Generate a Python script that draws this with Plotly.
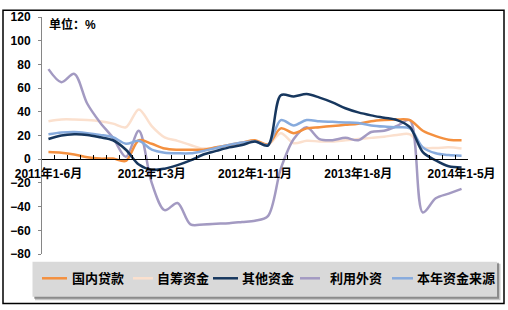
import plotly.graph_objects as go

# ---------------- data ----------------
months = [
    "2011年1-6月", "2011年1-7月", "2011年1-8月", "2011年1-9月", "2011年1-10月", "2011年1-11月", "2011年1-12月",
    "2012年1-2月", "2012年1-3月", "2012年1-4月", "2012年1-5月", "2012年1-6月", "2012年1-7月", "2012年1-8月",
    "2012年1-9月", "2012年1-10月", "2012年1-11月", "2012年1-12月",
    "2013年1-2月", "2013年1-3月", "2013年1-4月", "2013年1-5月", "2013年1-6月", "2013年1-7月", "2013年1-8月",
    "2013年1-9月", "2013年1-10月", "2013年1-11月", "2013年1-12月",
    "2014年1-2月", "2014年1-3月", "2014年1-4月", "2014年1-5月",
]
tick_labels = ["2011年1-6月", "2012年1-3月", "2012年1-11月", "2013年1-8月", "2014年1-5月"]

domestic_loans = [6, 5.5, 4, 1.6, 0.5, 0.5, -1.5, 16, 13, 9, 8, 8, 8, 10, 12, 14, 16, 12.5,
                  26, 22, 26, 27, 28, 29, 30, 32, 33, 33.5, 33, 24, 19.5, 16.5, 16]
self_raised = [32, 33.5, 33.5, 33, 32, 30, 27, 42, 28, 18.5, 15.5, 12, 9, 10, 12, 14, 15.5, 12,
               22, 13.5, 15.5, 15, 15, 16, 17, 18, 19, 20.5, 21, 10, 9.5, 10, 9]
other_funds = [17, 20, 21, 20.5, 18.5, 16, 8, -4.5, -9, -8, -5, -1, 4, 7, 10, 12, 15, 11.5,
               54, 53, 55, 52, 48, 43, 39.5, 37, 35, 33, 27, 6, -1, -6, -7]
foreign_capital = [76, 65, 72, 47, 31, 18, 2, 24, -20, -43, -37, -55, -55, -54.5, -54, -53, -52, -48,
                   -8, 17, 27, 17, 16, 18, 16, 23, 24, 28, 33, -45, -33, -29, -25]
total_sources = [21, 22.5, 23, 22, 20.5, 18.5, 13, 15.5, 8, 5.5, 5, 5, 7, 9.5, 12, 14, 15, 12,
                 33, 28.5, 33, 32, 31.5, 31, 30.5, 28.5, 27.5, 27, 26, 10, 5, 3.5, 3]

series_names = ["国内贷款", "自筹资金", "其他资金", "利用外资", "本年资金来源"]
series_values = [domestic_loans, self_raised, other_funds, foreign_capital, total_sources]
series_colors = ["#F4903F", "#FBE0CE", "#17375E", "#A39AC2", "#87ABDD"]
draw_order = [1, 3, 0, 4, 2]

# ---------------- layout geometry (pixels) ----------------
W, H = 508, 310
L, R, T, B = 42, 40, 10, 56
PW, PH = W - L - R, H - T - B


def px_x(px):
    return (px - L) / PW


def px_y(py):
    return (H - B - py) / PH


FONT = "Arial, 'Liberation Sans', 'Noto Sans CJK SC', sans-serif"

fig = go.Figure()
for k in draw_order:
    fig.add_trace(go.Scatter(
        x=months, y=series_values[k], name=series_names[k], mode="lines",
        line=dict(color=series_colors[k], width=2.5, shape="spline", smoothing=0.9),
        showlegend=False,
    ))

shapes = []
# outer border
shapes.append(dict(type="rect", xref="paper", yref="paper",
                   x0=px_x(3), x1=px_x(504), y0=px_y(305), y1=px_y(3),
                   line=dict(color="black", width=1.5), fillcolor="rgba(0,0,0,0)", layer="below"))
# legend shadow + box
shapes.append(dict(type="rect", xref="paper", yref="paper",
                   x0=px_x(35), x1=px_x(500.5), y0=px_y(301.5), y1=px_y(264),
                   line=dict(width=0), fillcolor="rgba(0,0,0,0.22)", layer="below"))
shapes.append(dict(type="rect", xref="paper", yref="paper",
                   x0=px_x(34), x1=px_x(499), y0=px_y(300), y1=px_y(263),
                   line=dict(width=0), fillcolor="rgba(0,0,0,0.3)", layer="below"))
shapes.append(dict(type="rect", xref="paper", yref="paper",
                   x0=px_x(32.5), x1=px_x(497), y0=px_y(298), y1=px_y(262),
                   line=dict(width=0), fillcolor="#D9D9D9", layer="below"))

annotations = [dict(text="单位：%", xref="paper", yref="paper", x=px_x(47), y=px_y(18),
                    xanchor="left", yanchor="middle", showarrow=False,
                    font=dict(family=FONT, size=12, color="black", weight="bold"))]

legend_pos = [(42, 67, 70), (133, 153, 155), (213, 238, 240), (300, 320, 328), (392, 413, 415)]
legend_y = 279
for k, (lx0, lx1, tx) in enumerate(legend_pos):
    shapes.append(dict(type="line", xref="paper", yref="paper",
                       x0=px_x(lx0), x1=px_x(lx1), y0=px_y(legend_y), y1=px_y(legend_y),
                       line=dict(color=series_colors[k], width=2.5)))
    annotations.append(dict(text=series_names[k], xref="paper", yref="paper",
                            x=px_x(tx), y=px_y(legend_y), xanchor="left", yanchor="middle",
                            showarrow=False,
                            font=dict(family=FONT, size=13, color="black", weight="bold")))

fig.update_layout(
    width=W, height=H,
    margin=dict(l=L, r=R, t=T, b=B),
    paper_bgcolor="white", plot_bgcolor="white",
    showlegend=False,
    shapes=shapes, annotations=annotations,
    font=dict(family=FONT, size=12, color="black"),
    xaxis=dict(
        type="category", categoryorder="array", categoryarray=months,
        range=[-0.5, len(months) - 0.5],
        anchor="free", position=0.4,
        showline=True, linecolor="black", linewidth=1,
        ticks="inside", ticklen=4, tickcolor="black", tickson="boundaries",
        tickmode="array", tickvals=months,
        ticktext=[m if m in tick_labels else "" for m in months],
        tickangle=0, ticklabelstandoff=3,
        tickfont=dict(family=FONT, size=12, color="black", weight="bold"),
        showgrid=False, zeroline=False,
    ),
    yaxis=dict(
        range=[-80, 120], dtick=20, tick0=0,
        showline=True, linecolor="#868686", linewidth=1,
        ticks="outside", ticklen=3, tickcolor="#868686", ticklabelstandoff=5,
        tickfont=dict(family=FONT, size=12, color="black", weight="bold"),
        showgrid=False, zeroline=False,
    ),
)

fig.write_html("out.html")
